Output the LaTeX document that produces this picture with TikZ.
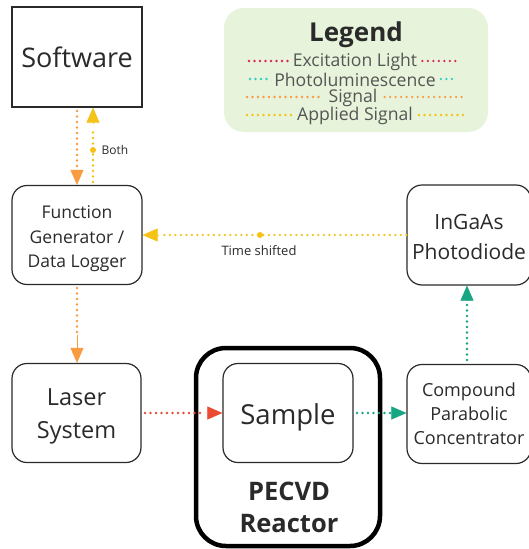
\documentclass[tikz,border=0pt]{standalone}
\usepackage{fontspec}
\setmainfont{Open Sans}
\usetikzlibrary{arrows.meta}
\definecolor{cexc}{HTML}{EA4B33}
\definecolor{cexcl}{HTML}{D8245A}
\definecolor{cpl}{HTML}{17A583}
\definecolor{cpll}{HTML}{2DCFC2}
\definecolor{csig}{HTML}{F99B40}
\definecolor{capp}{HTML}{F5C216}
\definecolor{cleg}{HTML}{E7F3DA}
\definecolor{ctxt}{HTML}{2A2A2A}
\tikzset{
  x=1pt,y=-1pt,
  box/.style={draw=ctxt,line width=1.2pt,rounded corners=15pt,align=center,inner sep=0pt,text=ctxt},
  dotline/.style={line width=2.6pt,line cap=round,dash pattern=on 0pt off 5.5pt},
  legtext/.style={font=\fontsize{17.6}{18}\selectfont,text=ctxt!80,inner sep=0pt},
  arr/.style={-{Triangle[length=15pt,width=13pt]}},
}
\begin{document}
\begin{tikzpicture}
\useasboundingbox (0,0) rectangle (529,549);
\fill[white] (0,0) rectangle (529,549);
% legend
\node[fill=cleg,rounded corners=20pt,minimum width=264pt,minimum height=124pt,inner sep=0pt] (leg) at (356,70) {};
\node[font=\bfseries\fontsize{26}{28}\selectfont,text=ctxt] (legt) at (356,35) {Legend};
\node[legtext] (l1) at (355,62) {Excitation Light};
\node[legtext] (l2) at (355,80) {Photoluminescence};
\node[legtext] (l3) at (353,98) {Signal};
\node[legtext] (l4) at (355,116) {Applied Signal};
\draw[dotline,cexcl] (249,61) -- ([xshift=-5pt]l1.west |- 0,61);
\draw[dotline,cexcl] ([xshift=5pt]l1.east |- 0,61) -- (458,61);
\draw[dotline,cpll] (250,79) -- ([xshift=-4pt]l2.west |- 0,79);
\draw[dotline,cpll] ([xshift=5pt]l2.east |- 0,79) -- (457,79);
\draw[dotline,csig] (247,97) -- ([xshift=-5pt]l3.west |- 0,97);
\draw[dotline,csig] ([xshift=7pt]l3.east |- 0,97) -- (466,97);
\draw[dotline,capp] (247,115) -- ([xshift=-5pt]l4.west |- 0,115);
\draw[dotline,capp] ([xshift=6pt]l4.east |- 0,115) -- (465,115);
% boxes
\node[box,rounded corners=0pt,minimum width=130pt,minimum height=100pt,font=\fontsize{27}{30}\selectfont] (sw) at (77,57) {Software};
\node[box,minimum width=130pt,minimum height=99pt,font=\fontsize{17.5}{24.5}\selectfont] (fg) at (77,235) {};
\node[font=\fontsize{17.5}{24.5}\selectfont,align=center,text=ctxt] (fgt) at (77,239) {Function\\Generator /\\Data Logger};
\node[box,minimum width=129pt,minimum height=99pt] (ls) at (76.5,413) {};
\node[font=\fontsize{23.5}{33}\selectfont,align=center,text=ctxt] (lst) at (76.5,416) {Laser\\System};
\node[box,draw=black,line width=4.5pt,rounded corners=30pt,minimum width=184pt,minimum height=198pt] (re) at (288,447) {};
\node[box,minimum width=130pt,minimum height=99pt] (sa) at (288,413) {};
\node[font=\fontsize{27.5}{30}\selectfont,text=ctxt] (sat) at (288,417) {Sample};
\node[font=\bfseries\fontsize{25.5}{32}\selectfont,align=center,text=ctxt] (ret) at (289,507) {PECVD\\Reactor};
\node[box,minimum width=124pt,minimum height=99pt,font=\fontsize{18}{24}\selectfont] (cpc) at (469,414) {Compound\\Parabolic\\Concentrator};
\node[box,minimum width=124pt,minimum height=100pt] (pd) at (469,235) {};
\node[font=\fontsize{21}{30}\selectfont,align=center,text=ctxt] (pdt) at (469,236.5) {InGaAs\\Photodiode};
% connectors
\draw[dotline,csig] (77,111) -- (77,172);
\draw[csig,arr] (77,170) -- (fg.north -| 77,0);
\draw[dotline,capp] (93,182) -- (93,128);
\draw[capp,arr] (93,124) -- (sw.south -| 93,0);
\fill[capp] (93,150) circle (3pt);
\node[font=\fontsize{12}{14}\selectfont,text=ctxt,anchor=west] (both) at (98,150) {Both};
\draw[dotline,csig] (77,288) -- (77,335);
\draw[csig,arr] (77,335) -- (ls.north -| 77,0);
\draw[dotline,capp] (pd.west |- 0,235) -- (160,235);
\draw[capp,arr] (158,235) -- (fg.east |- 0,235);
\fill[capp] (260,235) circle (3pt);
\node[font=\fontsize{13}{14}\selectfont,text=ctxt] (ts) at (259,251) {Time shifted};
\draw[dotline,cexc] (145,413) -- (205,413);
\draw[cexc,arr] (208,413) -- (sa.west |- 0,413);
\draw[dotline,cpl] (357,413) -- (390,413);
\draw[cpl,arr] (392,413) -- (cpc.west |- 0,413);
\draw[dotline,cpl] (467,360) -- (467,302);
\draw[cpl,arr] (467,300) -- (pd.south -| 467,0);
\end{tikzpicture}
\end{document}
